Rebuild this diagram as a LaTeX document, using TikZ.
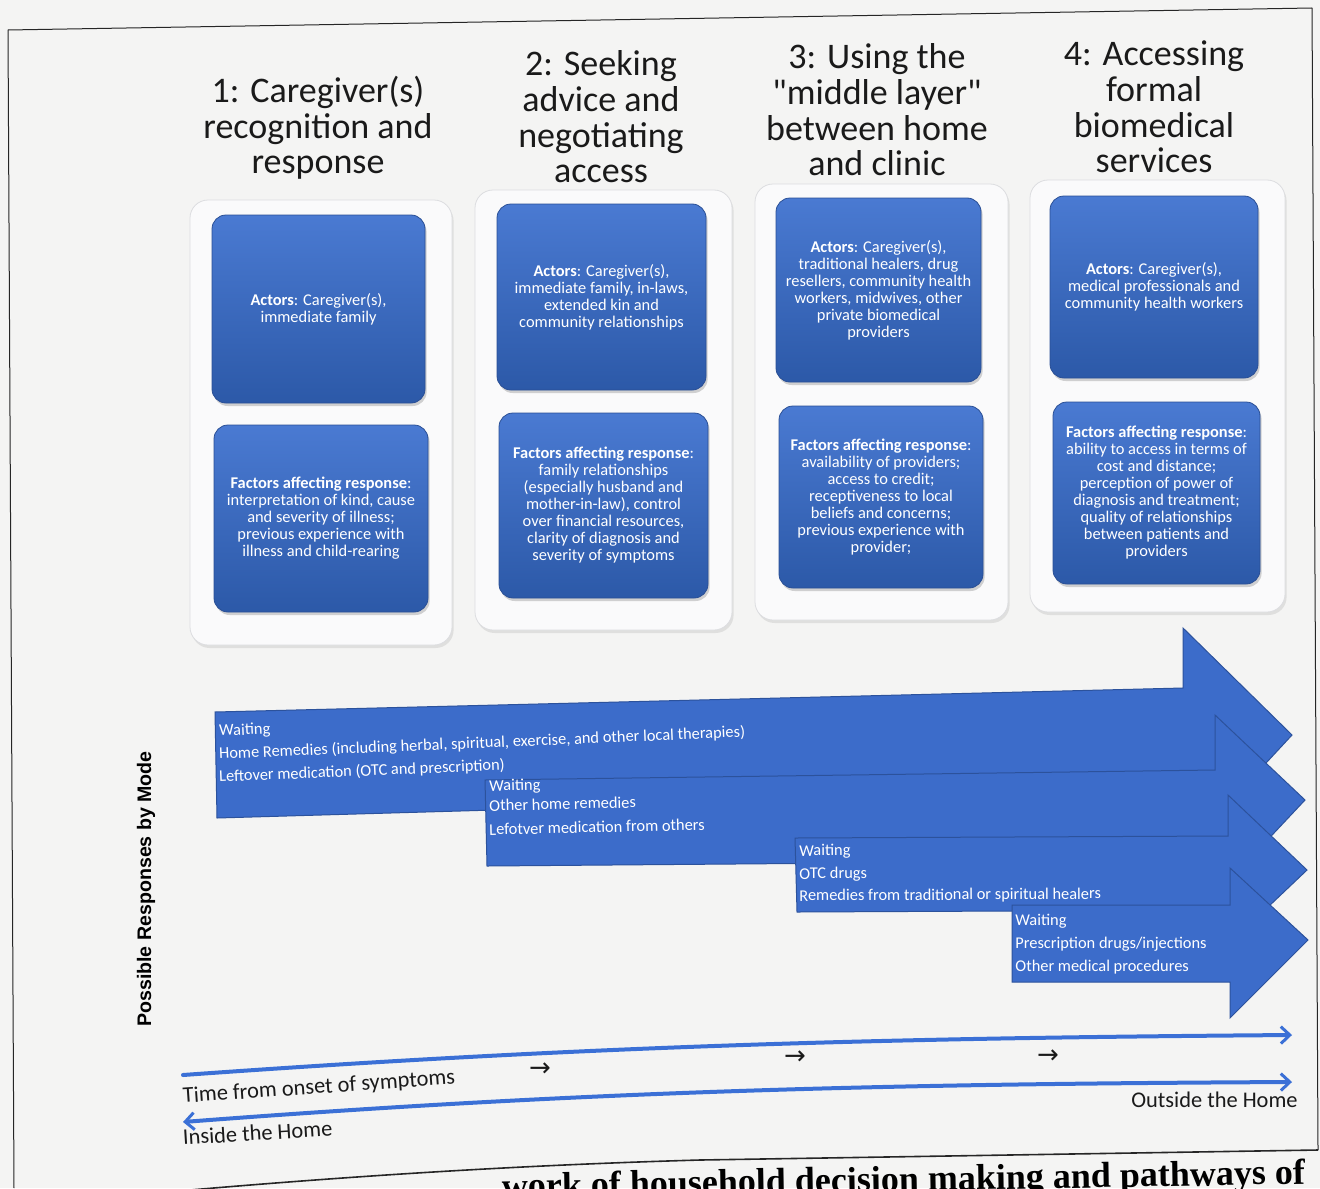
\documentclass[tikz,border=0pt]{standalone}
\usepackage{fontspec}
\setmainfont{Carlito}
\newfontfamily\labfont{Liberation Sans}
\newfontfamily\capfont{Liberation Serif}
\newfontfamily\symfont{DejaVu Sans}
\usetikzlibrary{arrows.meta,shadows}
\definecolor{boxtop}{HTML}{4A7AD2}
\definecolor{boxbot}{HTML}{2C59A8}
\definecolor{boxedge}{HTML}{2A4F95}
\definecolor{arrfill}{HTML}{3C6CCA}
\definecolor{arredge}{HTML}{2C529C}
\definecolor{panelc}{HTML}{FAFAFB}
\definecolor{paneledge}{HTML}{DCDDE0}
\definecolor{pagebg}{HTML}{F4F4F3}
\definecolor{timeblue}{HTML}{3B70D6}
\definecolor{inktext}{HTML}{1A1A1A}
\tikzset{
  tiptime/.tip={Straight Barb[length=4.5pt, width=8.5pt, line width=1.5pt]},
  panel/.style={fill=panelc, draw=paneledge, line width=0.4pt, rounded corners=9pt,
    drop shadow={shadow xshift=0.8pt, shadow yshift=-1.5pt, opacity=0.18}},
  bluebox/.style={top color=boxtop, bottom color=boxbot, draw=boxedge, line width=0.4pt,
    rounded corners=7pt, text=white, align=center, inner sep=2pt,
    font=\fontsize{8.2}{8.5}\selectfont,
    drop shadow={shadow xshift=0.8pt, shadow yshift=-1.5pt, opacity=0.35}},
  titletext/.style={text=inktext, align=center, font=\fontsize{18}{17.8}\selectfont},
  bigarrow/.style={fill=arrfill, draw=arredge, line width=0.5pt, line join=miter},
  arrline/.style={text=white, anchor=base west, inner sep=0pt,
    font=\fontsize{8.2}{9}\selectfont},
  timeline/.style={draw=timeblue, line width=2pt, line cap=round},
  smallarrow/.style={text=inktext, font=\symfont\fontsize{13}{13}\selectfont, inner sep=0pt},
  plaintext/.style={text=inktext, inner sep=0pt, font=\fontsize{11.2}{12}\selectfont},
  framel/.style={draw=black!85, line width=0.5pt}
}
\begin{document}
\begin{tikzpicture}[x=0.5pt, y=-0.5pt]
\useasboundingbox (0,0) rectangle (1320,1188);
\clip (0,0) rectangle (1320,1188);
\fill[pagebg] (0,0) rectangle (1320,1188);

% page frame
\draw[framel] (8,30) -- (1312,8);
\draw[framel] (8,30) -- (14,1188);
\draw[framel] (1312,8) -- (1318,1150);

% column titles
\node[titletext] (t1) at (318,128) {1: Caregiver(s)\\recognition and\\response};
\node[titletext] (t2) at (601,117) {2: Seeking\\advice and\\negotiating\\access};
\node[titletext] (t3) at (877,110) {3: Using the\\\textquotedbl middle layer\textquotedbl\\between home\\and clinic};
\node[titletext] (t4) at (1154,107) {4: Accessing\\formal\\biomedical\\services};

% background panels
\path[panel] (190,200) rectangle (452,645);
\path[panel] (475,190) rectangle (732,630);
\path[panel] (755,184) rectangle (1008,620);
\path[panel] (1030,180) rectangle (1285,612);

% actor boxes
\node[bluebox, minimum width=106.5pt, minimum height=94pt] (a1) at (318.5,309)
  {\textbf{Actors}: Caregiver(s),\\immediate family};
\node[bluebox, minimum width=104.5pt, minimum height=93pt] (a2) at (601.5,297)
  {\textbf{Actors}: Caregiver(s),\\immediate family, in-laws,\\extended kin and\\community relationships};
\node[bluebox, minimum width=102.5pt, minimum height=92pt] (a3) at (878.5,290)
  {\textbf{Actors}: Caregiver(s),\\traditional healers, drug\\resellers, community health\\workers, midwives, other\\private biomedical\\providers};
\node[bluebox, minimum width=104pt, minimum height=91pt] (a4) at (1154,287)
  {\textbf{Actors}: Caregiver(s),\\medical professionals and\\community health workers};

% factor boxes
\node[bluebox, minimum width=107pt, minimum height=93.5pt] (f1) at (321,518.5)
  {\textbf{Factors affecting response}:\\interpretation of kind, cause\\and severity of illness;\\previous experience with\\illness and child-rearing};
\node[bluebox, minimum width=104.5pt, minimum height=92.5pt] (f2) at (603.5,505.5)
  {\textbf{Factors affecting response}:\\family relationships\\(especially husband and\\mother-in-law), control\\over financial resources,\\clarity of diagnosis and\\severity of symptoms};
\node[bluebox, minimum width=102pt, minimum height=91pt] (f3) at (881,497)
  {\textbf{Factors affecting response}:\\availability of providers;\\access to credit;\\receptiveness to local\\beliefs and concerns;\\previous experience with\\provider;};
\node[bluebox, minimum width=103.5pt, minimum height=91pt] (f4) at (1156.5,493)
  {\textbf{Factors affecting response}:\\ability to access in terms of\\cost and distance;\\perception of power of\\diagnosis and treatment;\\quality of relationships\\between patients and\\providers};

% big step arrows
\path[bigarrow] (215,712) -- (1183,688) -- (1183,628) -- (1292,735) -- (1190,845)
  -- (1190,790) -- (217,818) -- cycle;
\path[bigarrow] (485,780) -- (1215,770) -- (1215,715) -- (1305,800) -- (1228,882)
  -- (1228,860) -- (487,866) -- cycle;
\path[bigarrow] (795,838) -- (1228,836) -- (1228,795) -- (1307,870) -- (1228,945)
  -- (1228,910) -- (797,912) -- cycle;
\path[bigarrow] (1012,905) -- (1230,905) -- (1230,868) -- (1308,940) -- (1230,1018)
  -- (1230,982) -- (1012,982) -- cycle;

% arrow texts
\node[arrline, rotate=2.4] (r1a) at (219,736) {Waiting};
\node[arrline, rotate=2.4] (r1b) at (219,759) {Home Remedies (including herbal, spiritual, exercise, and other local therapies)};
\node[arrline, rotate=2.4] (r1c) at (219,782) {Leftover medication (OTC and prescription)};
\node[arrline, rotate=1.3] (r2a) at (489,791) {Waiting};
\node[arrline, rotate=1.3] (r2b) at (489,811) {Other home remedies};
\node[arrline, rotate=1.3] (r2c) at (489,835) {Lefotver medication from others};
\node[arrline, rotate=0.4] (r3a) at (799,856) {Waiting};
\node[arrline, rotate=0.4] (r3b) at (799,879) {OTC drugs};
\node[arrline, rotate=0.4] (r3c) at (799,901) {Remedies from traditional or spiritual healers};
\node[arrline] (r4a) at (1015,925) {Waiting};
\node[arrline] (r4b) at (1015,948) {Prescription drugs/injections};
\node[arrline] (r4c) at (1015,971) {Other medical procedures};

% vertical label
\node[rotate=90, text=black, inner sep=0pt, font=\labfont\bfseries\fontsize{9.8}{10}\selectfont] (mode) at (146,889)
  {Possible Responses by Mode};

% timeline arrows
\coordinate (ts) at (183,1075);
\coordinate (te) at (1292,1035);
\coordinate (hs) at (183,1122);
\coordinate (he) at (1292,1082);
\draw[timeline, -{tiptime}] (ts) .. controls (600,1045) and (900,1038) .. (te);
\draw[timeline, {tiptime}-{tiptime}] (hs) .. controls (600,1090) and (900,1084) .. (he);

\node[smallarrow] (s1) at (540,1070) {→};
\node[smallarrow] (s2) at (795,1058) {→};
\node[smallarrow] (s3) at (1048,1057) {→};

\node[plaintext, anchor=base west, rotate=4] (time) at (183,1103) {Time from onset of symptoms};
\node[plaintext, anchor=base west, rotate=3.5] (inside) at (183,1145) {Inside the Home};
\node[plaintext, anchor=base east] (outside) at (1298,1107) {Outside the Home};

% caption fragment and page edge
\draw[framel, line width=0.8pt] (190,1190) .. controls (400,1172) and (560,1164) .. (700,1160) -- (1318,1150);
\node[anchor=base east, rotate=1, inner sep=0pt, text=black,
  font=\capfont\bfseries\fontsize{18}{18}\selectfont] (cap) at (1306,1184)
  {work of household decision making and pathways of};
\end{tikzpicture}
\end{document}
